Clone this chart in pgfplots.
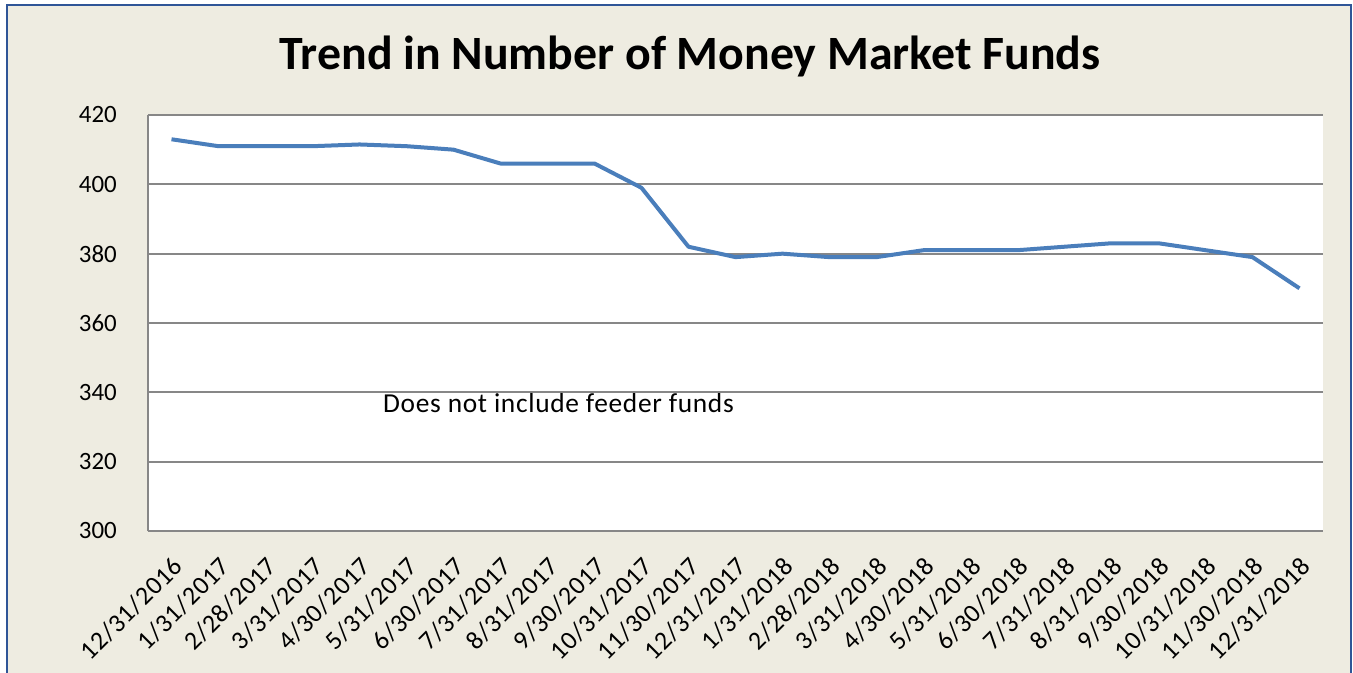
\documentclass[border=0pt]{standalone}
\usepackage{pgfplots}
\pgfplotsset{compat=1.18}
\usepackage{fontspec}
\setmainfont{Carlito}
\definecolor{bg}{HTML}{EEECE1}
\definecolor{frameblue}{HTML}{2F5597}
\definecolor{gridgray}{HTML}{878787}
\definecolor{lineblue}{HTML}{4A7EBB}
\begin{document}
\begin{tikzpicture}
\useasboundingbox (-148bp,-142bp) rectangle (1205bp,531bp);
\clip (-148bp,-142bp) rectangle (1205bp,531bp);
\fill[white] (-148bp,-142bp) rectangle (1205bp,531bp);
\filldraw[fill=bg, draw=frameblue, line width=1.5bp] (-141bp,-160bp) rectangle (1203bp,526bp);
\node[anchor=base, font=\fontsize{48}{52}\selectfont\bfseries] at (542bp,461bp) {Trend in Number of Money Market Funds};
\begin{axis}[at={(0,0)}, anchor=south west, scale only axis,
  width=1175bp, height=416bp,
  xmin=-0.5, xmax=24.5, ymin=300, ymax=420,
  ytick={300,320,...,420},
  xtick={0,...,24},
  xticklabels={12/31/2016,1/31/2017,2/28/2017,3/31/2017,4/30/2017,5/31/2017,6/30/2017,7/31/2017,8/31/2017,9/30/2017,10/31/2017,11/30/2017,12/31/2017,1/31/2018,2/28/2018,3/31/2018,4/30/2018,5/31/2018,6/30/2018,7/31/2018,8/31/2018,9/30/2018,10/31/2018,11/30/2018,12/31/2018},
  axis lines*=left,
  axis line style={draw=gridgray, line width=2bp},
  ymajorgrids,
  grid style={draw=gridgray, line width=2bp},
  major tick length=0pt,
  axis background/.style={fill=white},
  tick label style={font=\fontsize{25}{30}\selectfont, inner sep=0pt},
  xticklabel style={font=\fontsize{26}{30}\selectfont\addfontfeatures{LetterSpace=3}, xshift=0bp, yshift=-24bp, rotate=45, anchor=north east},
  yticklabel style={anchor=east, xshift=-31bp},
  /pgf/number format/assume math mode=true,
  clip=false]
\addplot[lineblue, line width=4bp, line join=round] coordinates {
(0,413) (1,411) (2,411) (3,411) (4,411.5) (5,411) (6,410) (7,406) (8,406) (9,406)
(10,399) (11,382) (12,379) (13,380) (14,379) (15,379) (16,381) (17,381) (18,381)
(19,382) (20,383) (21,383) (22,381) (23,379) (24,370)};
\node[anchor=base west, font=\fontsize{27.5}{30}\selectfont\addfontfeatures{LetterSpace=2.5}, inner sep=0pt] at (axis cs:4.5,334.3) {Does not include feeder funds};
\end{axis}
\end{tikzpicture}
\end{document}
